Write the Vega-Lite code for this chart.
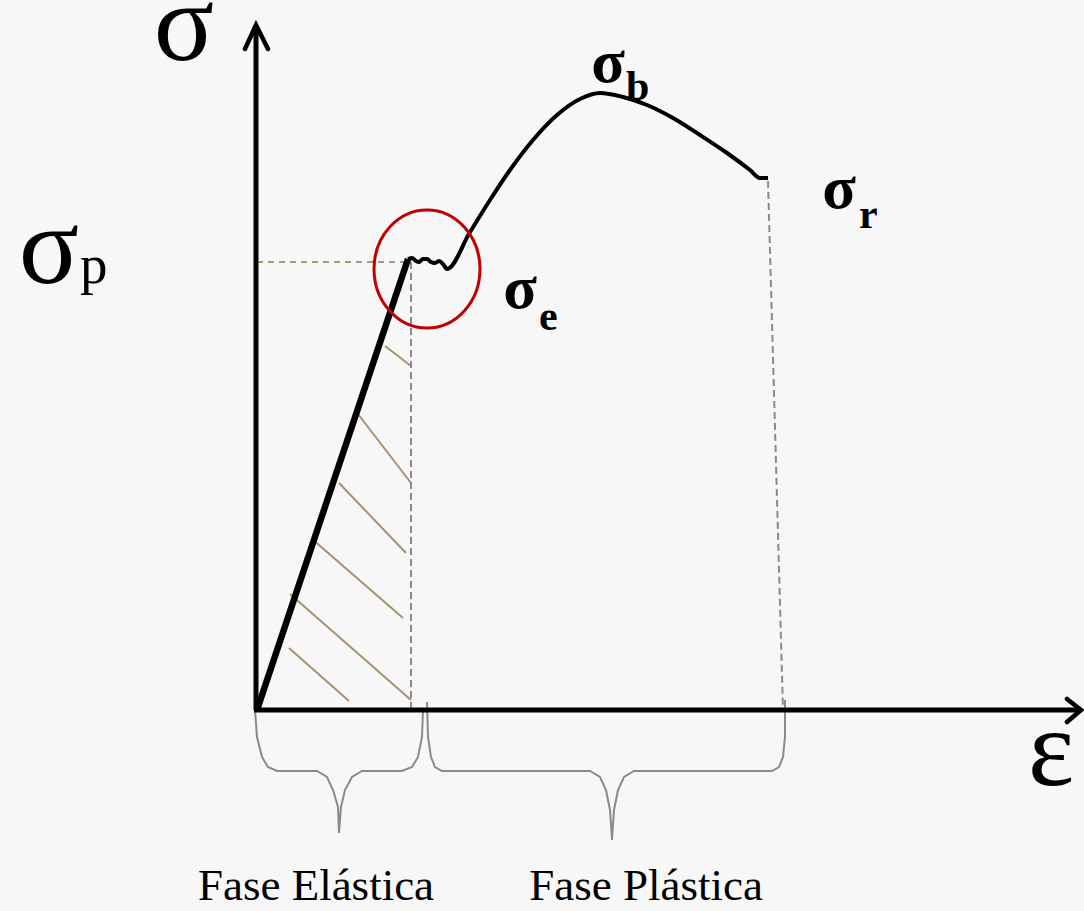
{
  "$schema": "https://vega.github.io/schema/vega-lite/v6.json",
  "width": 1084,
  "height": 911,
  "autosize": {"type": "none"},
  "padding": 0,
  "background": "#f7f7f7",
  "config": {"view": {"stroke": null}},
  "datasets": {
    "axes": [
      {"x": -1, "y": 0, "x2": -1, "y2": 683},
      {"x": -3, "y": 0, "x2": 822, "y2": 0}
    ],
    "arrows": [
      {"g": "y", "i": 0, "x": -12, "y": 661},
      {"g": "y", "i": 1, "x": -1, "y": 685},
      {"g": "y", "i": 2, "x": 11, "y": 661},
      {"g": "x", "i": 0, "x": 810, "y": 11},
      {"g": "x", "i": 1, "x": 824, "y": 0},
      {"g": "x", "i": 2, "x": 810, "y": -12}
    ],
    "elastic": [
      {"x": 0, "y": 0, "x2": 151, "y2": 451}
    ],
    "curve": [
      {"x": 151, "y": 451},
      {"x": 155, "y": 452},
      {"x": 159, "y": 449},
      {"x": 162, "y": 448},
      {"x": 166, "y": 451},
      {"x": 170, "y": 451},
      {"x": 174, "y": 448},
      {"x": 178, "y": 447},
      {"x": 182, "y": 449},
      {"x": 186, "y": 446},
      {"x": 190, "y": 441},
      {"x": 213, "y": 478},
      {"x": 233, "y": 510},
      {"x": 253, "y": 540},
      {"x": 276, "y": 570},
      {"x": 300, "y": 595},
      {"x": 323, "y": 611},
      {"x": 343, "y": 617},
      {"x": 366, "y": 613},
      {"x": 390, "y": 605},
      {"x": 416, "y": 592},
      {"x": 443, "y": 575},
      {"x": 470, "y": 557},
      {"x": 493, "y": 540},
      {"x": 503, "y": 532},
      {"x": 511, "y": 532}
    ],
    "tanDash": [
      {"x": 0, "y": 448, "x2": 151, "y2": 448}
    ],
    "grayDash": [
      {"x": 154, "y": 448, "x2": 154, "y2": 0},
      {"x": 511, "y": 529, "x2": 526, "y2": 0}
    ],
    "hatch": [
      {"x": 128, "y": 364, "x2": 154, "y2": 344},
      {"x": 101, "y": 296, "x2": 154, "y2": 227},
      {"x": 82, "y": 227, "x2": 149, "y2": 157},
      {"x": 55, "y": 171, "x2": 146, "y2": 92},
      {"x": 33, "y": 116, "x2": 154, "y2": 10},
      {"x": 32, "y": 62, "x2": 92, "y2": 9}
    ],
    "braces": [
      {"b": "L", "i": 0, "x": -2, "y": 0},
      {"b": "L", "i": 1, "x": 0, "y": -27},
      {"b": "L", "i": 2, "x": 5, "y": -47},
      {"b": "L", "i": 3, "x": 11, "y": -57},
      {"b": "L", "i": 4, "x": 20, "y": -61},
      {"b": "L", "i": 5, "x": 60, "y": -61},
      {"b": "L", "i": 6, "x": 70, "y": -67},
      {"b": "L", "i": 7, "x": 76, "y": -80},
      {"b": "L", "i": 8, "x": 81, "y": -97},
      {"b": "L", "i": 9, "x": 82, "y": -123},
      {"b": "L", "i": 10, "x": 84, "y": -97},
      {"b": "L", "i": 11, "x": 88, "y": -80},
      {"b": "L", "i": 12, "x": 95, "y": -67},
      {"b": "L", "i": 13, "x": 105, "y": -61},
      {"b": "L", "i": 14, "x": 145, "y": -61},
      {"b": "L", "i": 15, "x": 155, "y": -57},
      {"b": "L", "i": 16, "x": 161, "y": -47},
      {"b": "L", "i": 17, "x": 165, "y": -27},
      {"b": "L", "i": 18, "x": 166, "y": 0},
      {"b": "R", "i": 0, "x": 170, "y": 8},
      {"b": "R", "i": 1, "x": 171, "y": -27},
      {"b": "R", "i": 2, "x": 174, "y": -47},
      {"b": "R", "i": 3, "x": 178, "y": -57},
      {"b": "R", "i": 4, "x": 185, "y": -61},
      {"b": "R", "i": 5, "x": 333, "y": -61},
      {"b": "R", "i": 6, "x": 343, "y": -67},
      {"b": "R", "i": 7, "x": 349, "y": -80},
      {"b": "R", "i": 8, "x": 353, "y": -100},
      {"b": "R", "i": 9, "x": 355, "y": -130},
      {"b": "R", "i": 10, "x": 357, "y": -100},
      {"b": "R", "i": 11, "x": 361, "y": -80},
      {"b": "R", "i": 12, "x": 367, "y": -67},
      {"b": "R", "i": 13, "x": 377, "y": -61},
      {"b": "R", "i": 14, "x": 515, "y": -61},
      {"b": "R", "i": 15, "x": 522, "y": -57},
      {"b": "R", "i": 16, "x": 526, "y": -47},
      {"b": "R", "i": 17, "x": 528, "y": -27},
      {"b": "R", "i": 18, "x": 528, "y": 10}
    ],
    "circle": [
      {"x": 170, "y": 441}
    ],
    "bigSigma": [
      {"x": -73, "y": 650, "t": "σ"},
      {"x": -208, "y": 427, "t": "σ"}
    ],
    "subP": [
      {"x": -177, "y": 427, "t": "p"}
    ],
    "boldSigma": [
      {"x": 351, "y": 628, "t": "σ"},
      {"x": 582, "y": 502, "t": "σ"},
      {"x": 263, "y": 402, "t": "σ"}
    ],
    "boldSub": [
      {"x": 369, "y": 610, "t": "b"},
      {"x": 602, "y": 482, "t": "r"},
      {"x": 282, "y": 380, "t": "e"}
    ],
    "eps": [
      {"x": 794, "y": -75, "t": "ε"}
    ],
    "phases": [
      {"x": 59, "y": -190, "t": "Fase Elástica"},
      {"x": 389, "y": -190, "t": "Fase Plástica"}
    ]
  },
  "encoding": {
    "x": {"field": "x", "type": "quantitative", "scale": {"domain": [-257, 827], "nice": false, "zero": false}, "axis": null},
    "y": {"field": "y", "type": "quantitative", "scale": {"domain": [-201, 710], "nice": false, "zero": false}, "axis": null}
  },
  "layer": [
    {
      "data": {"name": "hatch"},
      "mark": {"type": "rule", "color": "#a8916f", "strokeWidth": 2},
      "encoding": {"x2": {"field": "x2"}, "y2": {"field": "y2"}}
    },
    {
      "data": {"name": "tanDash"},
      "mark": {"type": "rule", "color": "#ad9777", "strokeWidth": 2, "strokeDash": [6, 5]},
      "encoding": {"x2": {"field": "x2"}, "y2": {"field": "y2"}}
    },
    {
      "data": {"name": "grayDash"},
      "mark": {"type": "rule", "color": "#8a8a8a", "strokeWidth": 2, "strokeDash": [7, 4]},
      "encoding": {"x2": {"field": "x2"}, "y2": {"field": "y2"}}
    },
    {
      "data": {"name": "braces"},
      "mark": {"type": "line", "color": "#8a8a8a", "strokeWidth": 2, "interpolate": "linear"},
      "encoding": {"detail": {"field": "b"}, "order": {"field": "i", "type": "quantitative"}}
    },
    {
      "data": {"name": "axes"},
      "mark": {"type": "rule", "color": "#000000", "strokeWidth": 5},
      "encoding": {"x2": {"field": "x2"}, "y2": {"field": "y2"}}
    },
    {
      "data": {"name": "arrows"},
      "mark": {"type": "line", "color": "#000000", "strokeWidth": 4.5, "strokeCap": "round", "strokeJoin": "miter"},
      "encoding": {"detail": {"field": "g"}, "order": {"field": "i", "type": "quantitative"}}
    },
    {
      "data": {"name": "elastic"},
      "mark": {"type": "rule", "color": "#000000", "strokeWidth": 6.5},
      "encoding": {"x2": {"field": "x2"}, "y2": {"field": "y2"}}
    },
    {
      "data": {"name": "curve"},
      "mark": {"type": "line", "color": "#000000", "strokeWidth": 4, "interpolate": "monotone", "strokeJoin": "round"}
    },
    {
      "data": {"name": "circle"},
      "mark": {"type": "point", "shape": "M -0.898 0 A 0.898 1 0 1 0 0.898 0 A 0.898 1 0 1 0 -0.898 0 Z", "size": 13924, "filled": false, "stroke": "#c00000", "strokeWidth": 3, "opacity": 1}
    },
    {
      "data": {"name": "bigSigma"},
      "mark": {"type": "text", "font": "Liberation Serif", "fontSize": 112, "align": "center", "baseline": "alphabetic", "color": "#000000"},
      "encoding": {"text": {"field": "t"}}
    },
    {
      "data": {"name": "subP"},
      "mark": {"type": "text", "font": "Liberation Serif", "fontSize": 55, "align": "left", "baseline": "alphabetic", "color": "#000000"},
      "encoding": {"text": {"field": "t"}}
    },
    {
      "data": {"name": "boldSigma"},
      "mark": {"type": "text", "font": "Liberation Serif", "fontSize": 62, "fontWeight": "bold", "align": "center", "baseline": "alphabetic", "color": "#000000"},
      "encoding": {"text": {"field": "t"}}
    },
    {
      "data": {"name": "boldSub"},
      "mark": {"type": "text", "font": "Liberation Serif", "fontSize": 42, "fontWeight": "bold", "align": "left", "baseline": "alphabetic", "color": "#000000"},
      "encoding": {"text": {"field": "t"}}
    },
    {
      "data": {"name": "eps"},
      "mark": {"type": "text", "font": "Liberation Serif", "fontSize": 110, "align": "center", "baseline": "alphabetic", "color": "#000000"},
      "encoding": {"text": {"field": "t"}}
    },
    {
      "data": {"name": "phases"},
      "mark": {"type": "text", "font": "Liberation Serif", "fontSize": 45, "align": "center", "baseline": "alphabetic", "color": "#000000"},
      "encoding": {"text": {"field": "t"}}
    }
  ]
}
